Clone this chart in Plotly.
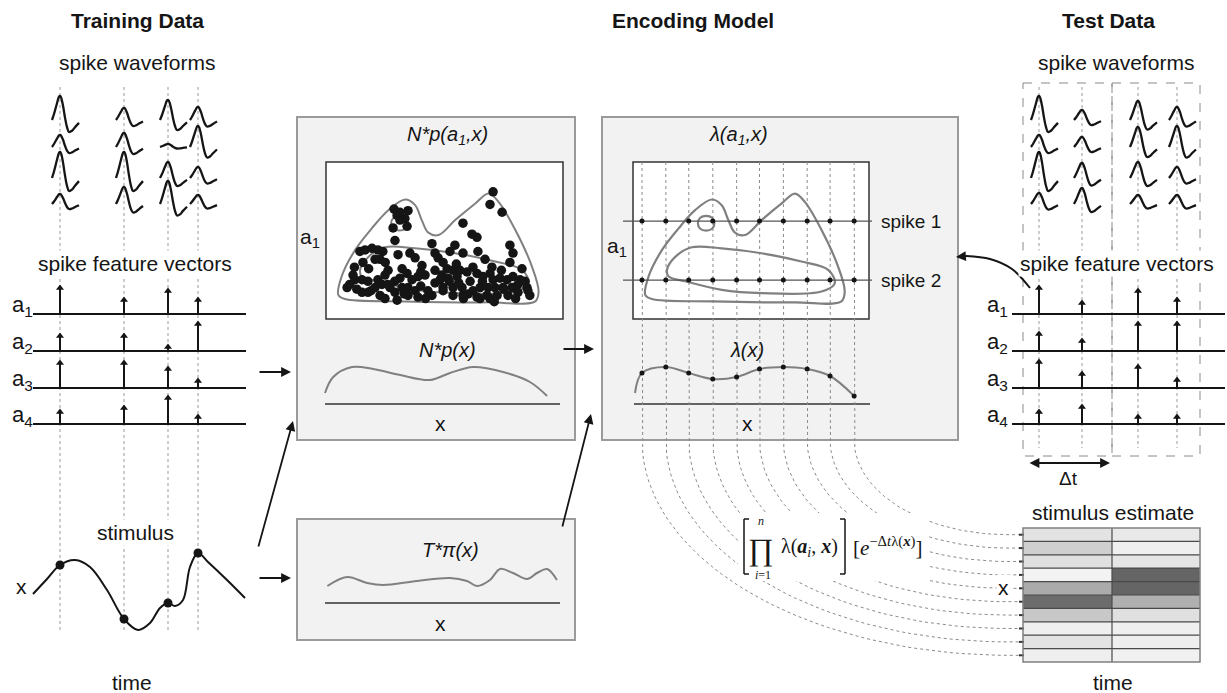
import numpy as np
import plotly.graph_objects as go

W, H = 1227, 693
SANS = "Liberation Sans, Arial, sans-serif"
SERIF = "Liberation Serif, DejaVu Serif, serif"
INK = "#151515"

# ---------------- data ----------------
channel_labels = ["a<sub>1</sub>", "a<sub>2</sub>", "a<sub>3</sub>", "a<sub>4</sub>"]
train_spike_t = [60, 124, 168, 198]
test_spike_t = [1039, 1082, 1138, 1177]

# waveform peak amplitudes [spike][channel]
train_wave_amp = [[24, 12, 26, 10], [12, 14, 26, 17], [20, 3, 16, 23], [13, 21, 11, 9]]
test_wave_amp = [[24, 12, 26, 11], [10, 10, 15, 16], [19, 20, 16, 9], [13, 21, 11, 9]]
wave_shape_t = [-8, -6, -3, -1, 0, 1, 3, 5, 7, 9, 12, 15, 19]
wave_shape_v = [0, 0.25, 0.7, 0.97, 1, 0.95, 0.6, 0.1, -0.3, -0.5, -0.45, -0.3, -0.12]

# spike feature vector heights [spike][channel]
train_feat = [[29, 18, 28, 15], [17, 18, 28, 19], [26, 7, 22, 29], [17, 30, 10, 10]]
test_feat = [[29, 20, 29, 15], [14, 13, 17, 20], [26, 30, 24, 10], [17, 30, 11, 10]]

# stimulus trace
stim_t = [33, 47, 60, 75, 90, 107, 124, 138, 150, 160, 168, 175, 183, 190, 198, 208, 227, 245]
stim_x = [46, 61, 75, 80, 73, 50, 21, 10, 17, 32, 37, 34, 40, 73, 87, 78, 60, 42]

# training spikes in (x, a1) feature space (normalised)
dot_x = [0.287, 0.312, 0.346, 0.30, 0.333, 0.342, 0.283, 0.312, 0.291, 0.143, 0.165, 0.194, 0.219, 0.24,
         0.207, 0.228, 0.156, 0.304, 0.354, 0.376, 0.405, 0.447, 0.46, 0.473, 0.262, 0.249, 0.219, 0.321,
         0.342, 0.312, 0.363, 0.388, 0.418, 0.114, 0.122, 0.152, 0.177, 0.207, 0.089, 0.152, 0.177, 0.228,
         0.249, 0.291, 0.321, 0.346, 0.376, 0.346, 0.30, 0.43, 0.46, 0.447, 0.388, 0.236, 0.27, 0.46, 0.481,
         0.494, 0.705, 0.692, 0.743, 0.578, 0.616, 0.637, 0.544, 0.523, 0.578, 0.641, 0.671, 0.776, 0.789,
         0.776, 0.827, 0.494, 0.511, 0.536, 0.565, 0.489, 0.515, 0.553, 0.595, 0.637, 0.662, 0.692, 0.705,
         0.734, 0.764, 0.789, 0.819, 0.84, 0.608, 0.494, 0.536, 0.574, 0.62, 0.65, 0.684, 0.713, 0.747,
         0.785, 0.81, 0.848, 0.852, 0.536, 0.578, 0.637, 0.679, 0.722, 0.768, 0.81, 0.65, 0.692,
         0.10, 0.13, 0.19, 0.26, 0.29, 0.33, 0.40, 0.42, 0.52, 0.56, 0.60, 0.66, 0.75, 0.80, 0.86,
         0.55, 0.62, 0.70, 0.74, 0.18, 0.25, 0.12, 0.40, 0.58, 0.71]
dot_a1 = [0.70, 0.68, 0.69, 0.66, 0.64, 0.59, 0.58, 0.63, 0.50, 0.43, 0.44, 0.45, 0.44, 0.43,
          0.38, 0.38, 0.36, 0.41, 0.42, 0.39, 0.34, 0.48, 0.42, 0.39, 0.31, 0.28, 0.25, 0.32,
          0.29, 0.26, 0.25, 0.27, 0.28, 0.28, 0.25, 0.25, 0.24, 0.20, 0.20, 0.17, 0.17, 0.15,
          0.13, 0.17, 0.20, 0.20, 0.18, 0.15, 0.12, 0.18, 0.23, 0.15, 0.14, 0.22, 0.20, 0.31, 0.25,
          0.18, 0.81, 0.73, 0.68, 0.61, 0.54, 0.52, 0.47, 0.43, 0.42, 0.43, 0.38, 0.47, 0.42,
          0.36, 0.32, 0.36, 0.32, 0.31, 0.31, 0.28, 0.26, 0.27, 0.30, 0.29, 0.27, 0.29, 0.25,
          0.26, 0.25, 0.27, 0.25, 0.24, 0.24, 0.20, 0.20, 0.20, 0.18, 0.20, 0.20, 0.20, 0.20,
          0.20, 0.22, 0.20, 0.18, 0.15, 0.15, 0.14, 0.15, 0.15, 0.15, 0.17, 0.13, 0.13,
          0.22, 0.19, 0.18, 0.22, 0.24, 0.16, 0.21, 0.13, 0.24, 0.23, 0.16, 0.24, 0.19, 0.13, 0.15,
          0.35, 0.33, 0.33, 0.31, 0.32, 0.36, 0.33, 0.30, 0.13, 0.11]

# density contours in (x, a1) space
outer_x = [0.052, 0.066, 0.123, 0.193, 0.263, 0.334, 0.376, 0.404, 0.432, 0.475, 0.545, 0.630, 0.686,
           0.728, 0.799, 0.869, 0.897, 0.883, 0.686, 0.334, 0.080, 0.052]
outer_a1 = [0.154, 0.271, 0.44, 0.577, 0.693, 0.761, 0.725, 0.63, 0.55, 0.535, 0.63, 0.736, 0.799,
            0.746, 0.567, 0.334, 0.176, 0.112, 0.106, 0.112, 0.127, 0.154]
small_x = [0.275, 0.285, 0.31, 0.335, 0.345, 0.335, 0.31, 0.285, 0.275]
small_a1 = [0.61, 0.645, 0.657, 0.645, 0.61, 0.575, 0.563, 0.575, 0.61]
inner_x = [0.144, 0.180, 0.249, 0.376, 0.545, 0.714, 0.827, 0.855, 0.799, 0.545, 0.376, 0.225, 0.151, 0.144]
inner_a1 = [0.313, 0.397, 0.457, 0.45, 0.419, 0.366, 0.313, 0.228, 0.175, 0.165, 0.186, 0.239, 0.271, 0.313]

# marginal curves (x normalised, height)
np_x = [0.0, 0.035, 0.115, 0.205, 0.32, 0.447, 0.532, 0.63, 0.758, 0.872, 0.945]
np_h = [11, 27, 37, 35, 29, 24, 31, 37, 32, 22, 8]
pi_x = [0.01, 0.094, 0.179, 0.247, 0.391, 0.532, 0.604, 0.647, 0.702, 0.745, 0.8, 0.86, 0.902, 0.945, 0.987]
pi_h = [17, 26, 20, 18, 22, 25, 22, 17, 23, 34, 30, 24, 30, 34, 23]

# evaluation grid of the encoding model
grid_x = [0.038, 0.139, 0.236, 0.338, 0.439, 0.536, 0.637, 0.738, 0.835, 0.937]
lam_start = 11
lam_h = [31, 37, 31, 25, 27, 35, 37, 35, 28, 8]
test_spike_a1 = [0.624, 0.248]
test_spike_names = ["spike 1", "spike 2"]

# stimulus estimate (posterior intensity), rows top->bottom, two time bins
post_bin1 = [0.12, 0.24, 0.14, 0.03, 0.45, 0.82, 0.28, 0.05, 0.12, 0.05]
post_bin2 = [0.09, 0.05, 0.11, 0.86, 0.86, 0.42, 0.14, 0.05, 0.06, 0.04]

# ---------------- helpers ----------------
fig = go.Figure()
shapes, anns = [], []


def rect(x0, y0, x1, y1, fill, line, lw, dash=None, layer="below"):
    shapes.append(dict(type="rect", xref="x", yref="y", x0=x0, y0=y0, x1=x1, y1=y1, fillcolor=fill,
                       line=dict(color=line, width=lw, dash=dash), layer=layer))


def seg(x0, y0, x1, y1, color=INK, lw=1.5, layer="above"):
    shapes.append(dict(type="line", xref="x", yref="y", x0=x0, y0=y0, x1=x1, y1=y1,
                       line=dict(color=color, width=lw), layer=layer))


def text(x, y, s, size=21, family=SANS, bg="rgba(0,0,0,0)", xanchor="center", color=INK):
    anns.append(dict(x=x, y=y, xref="x", yref="y", text=s, showarrow=False, xanchor=xanchor,
                     yanchor="middle", font=dict(size=size, family=family, color=color), bgcolor=bg,
                     borderpad=1))


def arrow(x0, y0, x1, y1, both=False):
    anns.append(dict(x=x1, y=y1, ax=x0, ay=y0, xref="x", yref="y", axref="x", ayref="y", text="",
                     showarrow=True, arrowhead=2, arrowsize=1.1, arrowwidth=1.8, arrowcolor=INK,
                     arrowside="end+start" if both else "end", standoff=0, startstandoff=0))


def lines(xs, ys, color=INK, width=2, dash=None, shape="linear"):
    fig.add_trace(go.Scatter(x=xs, y=ys, mode="lines", hoverinfo="skip",
                             line=dict(color=color, width=width, dash=dash, shape=shape)))


def pts(xs, ys, size, color=INK, symbol="circle"):
    fig.add_trace(go.Scatter(x=xs, y=ys, mode="markers", hoverinfo="skip",
                             marker=dict(size=size, color=color, symbol=symbol, line=dict(width=0))))


# panel geometry
P1 = (326, 162, 563, 319)
P3 = (633, 162, 869, 319)


def to_panel(P, u, a):
    return [P[0] + v * (P[2] - P[0]) for v in u], [P[3] - v * (P[3] - P[1]) for v in a]


wave_base = [120, 147, 178, 204]
feat_base = [314, 351, 388, 424]

# ---------------- boxes ----------------
rect(297, 117, 575, 440, "#f2f2f2", "#9a9a9a", 2)
rect(*P1, "white", "#333", 1.5)
rect(297, 519, 575, 640, "#f2f2f2", "#9a9a9a", 2)
rect(602, 117, 958, 440, "#f2f2f2", "#9a9a9a", 2)
rect(*P3, "white", "#333", 1.5)
rect(1023, 83, 1112, 456, "rgba(0,0,0,0)", "#8a8a8a", 1, "dash")
rect(1112, 83, 1200, 456, "rgba(0,0,0,0)", "#8a8a8a", 1, "dash")
seg(325, 404, 560, 404, "#333", 1.5, "below")
seg(634, 404, 870, 404, "#333", 1.5, "below")
seg(325, 603, 560, 603, "#333", 1.5, "below")

# ---------------- dotted guides ----------------
xs, ys = [], []
for t in train_spike_t:
    xs += [t, t, None]; ys += [87, 633, None]
for t in test_spike_t:
    xs += [t, t, None]; ys += [87, 448, None]
lines(xs, ys, "#9a9a9a", 1, "dot")

# encoding grid lines flowing into the stimulus estimate rows
row_edges = np.linspace(528, 662, len(post_bin1) + 1)
row_c = (row_edges[:-1] + row_edges[1:]) / 2
gx, _ = to_panel(P3, grid_x, [0] * len(grid_x))
xs, ys = [], []
for k, x0 in enumerate(gx):
    yr = row_c[len(gx) - 1 - k]
    xc = 1008
    tt = np.linspace(0, np.pi / 2, 50)
    xs += [x0, x0] + list(xc - (xc - x0) * np.cos(tt)) + [1021, None]
    ys += [162, 440] + list(440 + (yr - 440) * np.sin(tt)) + [yr, None]
lines(xs, ys, "#8a8a8a", 1, "dot")

# ---------------- waveforms ----------------
for times, amps in ((train_spike_t, train_wave_amp), (test_spike_t, test_wave_amp)):
    xs, ys = [], []
    for i, t in enumerate(times):
        for c in range(4):
            A = amps[i][c]
            xs += [t + d for d in wave_shape_t] + [None]
            ys += [wave_base[c] - A * v for v in wave_shape_v] + [None]
    lines(xs, ys, INK, 2.3, shape="spline")

# ---------------- feature vectors ----------------
for times, feats, bx0, bx1, lx in ((train_spike_t, train_feat, 33, 246, 22),
                                  (test_spike_t, test_feat, 1012, 1225, 997)):
    xs, ys = [], []
    for c in range(4):
        xs += [bx0, bx1, None]; ys += [feat_base[c], feat_base[c], None]
    lines(xs, ys, INK, 2)
    xs, ys, tx, ty = [], [], [], []
    for i, t in enumerate(times):
        for c in range(4):
            top = feat_base[c] - feats[i][c] + 3
            xs += [t, t, None]; ys += [feat_base[c], top, None]
            tx.append(t); ty.append(top)
    lines(xs, ys, INK, 2)
    pts(tx, ty, 7, INK, "triangle-up")
    for c in range(4):
        text(lx, feat_base[c] - 8, channel_labels[c], 22)

# ---------------- stimulus ----------------
lines(stim_t, [640 - v for v in stim_x], INK, 2, shape="spline")
pts(train_spike_t, [640 - np.interp(t, stim_t, stim_x) for t in train_spike_t], 9)

# ---------------- box 1 : N*p(a1,x) ----------------
for u, a in ((outer_x, outer_a1), (small_x, small_a1), (inner_x, inner_a1)):
    px, py = to_panel(P1, u, a)
    lines(px, py, "#808080", 2, shape="spline")
px, py = to_panel(P1, dot_x, dot_a1)
pts(px, py, 9.5)
lines([325 + u * 235 for u in np_x], [404 - h for h in np_h], "#808080", 2, shape="spline")
lines([325 + u * 235 for u in pi_x], [603 - h for h in pi_h], "#808080", 2, shape="spline")

# ---------------- box 3 : lambda(a1,x) ----------------
for u, a in ((outer_x, outer_a1), (small_x, small_a1), (inner_x, inner_a1)):
    px, py = to_panel(P3, u, a)
    lines(px, py, "#808080", 2.2, shape="spline")
for a in test_spike_a1:
    _, yy = to_panel(P3, [0], [a])
    lines([623, 872], [yy[0], yy[0]], "#555", 1.2)
    pts(gx, [yy[0]] * len(gx), 5)
lam_xs = [635] + gx
lam_ys = [404 - lam_start] + [404 - h for h in lam_h]
lines(lam_xs, lam_ys, "#808080", 2, shape="spline")
pts(gx, lam_ys[1:], 5)

# ---------------- stimulus estimate ----------------
fig.add_trace(go.Heatmap(x=[1023, 1112, 1200], y=list(row_edges),
                         z=[[a, b] for a, b in zip(post_bin1, post_bin2)], zmin=0, zmax=1,
                         colorscale=[[0, "#f8f8f8"], [1, "#4d4d4d"]], showscale=False, hoverinfo="skip"))
xs, ys = [], []
for yv in row_edges[1:-1]:
    xs += [1023, 1200, None]; ys += [yv, yv, None]
xs += [1112, 1112, None]; ys += [528, 662, None]
lines(xs, ys, "#4a4a4a", 1.2)
xs, ys = [], []
for yv in row_c:
    xs += [1019, 1024, None]; ys += [yv, yv, None]
lines(xs, ys, "#333", 2)
rect(1023, 528, 1200, 662, "rgba(0,0,0,0)", "#808080", 1.5, layer="above")

# ---------------- formula ----------------
rect(738, 513, 927, 581, "white", "rgba(0,0,0,0)", 0, layer="above")
seg(744, 519, 744, 574, INK, 1.5); seg(744, 519, 749, 519, INK, 1.5); seg(744, 574, 749, 574, INK, 1.5)
seg(845, 519, 845, 574, INK, 1.5); seg(840, 519, 845, 519, INK, 1.5); seg(840, 574, 845, 574, INK, 1.5)
text(761, 549, "∏", 31, SERIF)
text(761, 521, "<i>n</i>", 12, SERIF)
text(763, 575, "<i>i</i>=1", 12, SERIF)
text(809, 547, "λ(<b><i>a</i></b><sub><i>i</i></sub>, <b><i>x</i></b>)", 20, SERIF)
text(887, 546, "[<i>e</i><sup>−Δ<i>t</i>λ(<b><i>x</i></b>)</sup>]", 21, SERIF)

# ---------------- arrows ----------------
arrow(258, 372, 291, 372)
arrow(258, 578, 291, 578)
arrow(258, 548, 293, 421)
arrow(562, 349, 594, 349)
arrow(562, 528, 591, 414)
arrow(1028, 463, 1110, 463, both=True)
lines([1030, 1012, 990, 966], [288, 269, 259, 256], INK, 2, shape="spline")
arrow(968, 256, 956, 257)

# ---------------- labels ----------------
text(137, 20, "<b>Training Data</b>", 21)
text(693, 20, "<b>Encoding Model</b>", 21)
text(1108, 20, "<b>Test Data</b>", 21)
text(137, 62, "spike waveforms", 21)
text(1116, 62, "spike waveforms", 21)
text(135, 263, "spike feature vectors", 21, bg="white")
text(1117, 263, "spike feature vectors", 21, bg="white")
text(135, 532, "stimulus", 21, bg="white")
text(21, 586, "x", 21)
text(132, 682, "time", 21)
text(1113, 682, "time", 21)
text(447, 135, "<i>N*p(a<sub>1</sub>,x)</i>", 20)
text(310, 238, "a<sub>1</sub>", 21)
text(447, 350, "<i>N*p(x)</i>", 20)
text(440, 423, "x", 21)
text(450, 550, "<i>T*π(x)</i>", 20)
text(440, 623, "x", 21)
text(738, 135, "<i>λ(a<sub>1</sub>,x)</i>", 20)
text(617, 247, "a<sub>1</sub>", 21)
for a, nm in zip(test_spike_a1, test_spike_names):
    _, yy = to_panel(P3, [0], [a])
    text(879, yy[0], nm, 19, xanchor="left")
text(747, 350, "<i>λ(x)</i>", 20)
text(747, 423, "x", 21)
text(1068, 478, "Δt", 19)
text(1113, 512, "stimulus estimate", 21)
text(1003, 587, "x", 21, bg="white")

fig.update_layout(
    width=W, height=H, margin=dict(l=0, r=0, t=0, b=0), autosize=False,
    paper_bgcolor="white", plot_bgcolor="white", showlegend=False, hovermode=False,
    xaxis=dict(range=[0, W], visible=False, fixedrange=True),
    yaxis=dict(range=[H, 0], visible=False, fixedrange=True),
    shapes=shapes, annotations=anns,
)
fig.write_html("out.html", config={"displayModeBar": False},
               post_script="document.body.style.margin='0';document.body.style.overflow='hidden';")
